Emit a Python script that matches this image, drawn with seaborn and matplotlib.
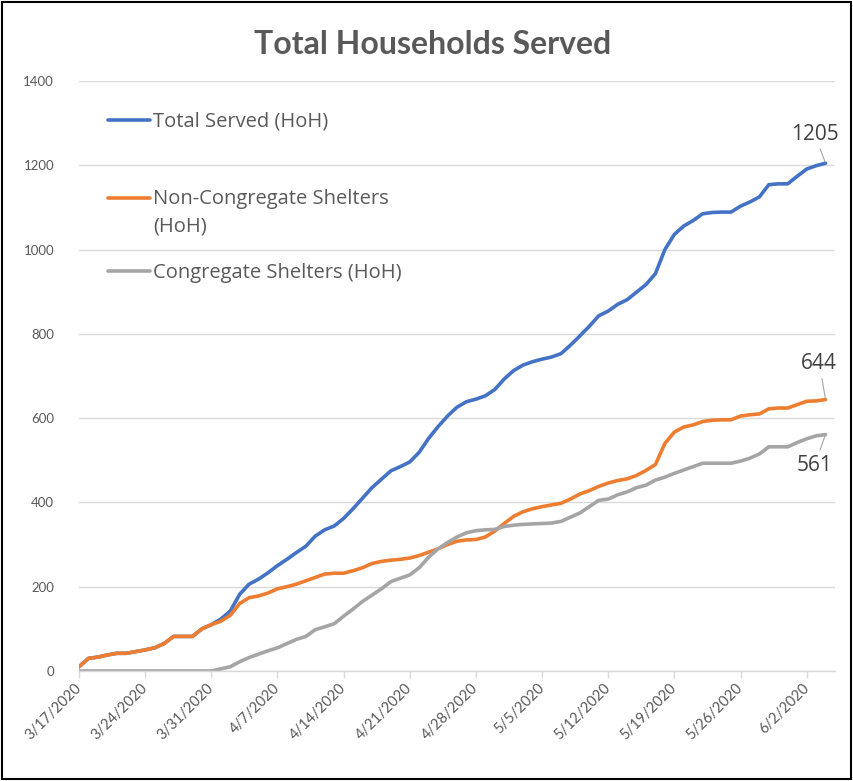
import numpy as np
import pandas as pd
import matplotlib.pyplot as plt
import matplotlib.patches as mpatches
import seaborn as sns

# Daily counts, 3/17/2020 - 6/4/2020
start_date = "2020-03-17"
end_date = "2020-06-04"

total_served = [
    10, 30, 33, 38, 42, 42, 46, 50, 55, 65, 82, 82, 82, 100, 110, 123, 142, 182, 206, 218,
    233, 250, 265, 281, 296, 320, 335, 344, 362, 385, 410, 435, 455, 475, 485, 496, 519, 552, 580, 605,
    626, 639, 645, 653, 668, 693, 713, 726, 734, 740, 745, 753, 773, 795, 818, 843, 854, 870, 881, 899,
    917, 943, 1000, 1036, 1056, 1069, 1085, 1088, 1089, 1089, 1103, 1113, 1125, 1154, 1156, 1156, 1174, 1191, 1199, 1205,
]
non_congregate = [
    10, 30, 33, 38, 42, 42, 46, 50, 55, 65, 82, 82, 82, 100, 110, 118, 132, 160, 174, 178,
    185, 195, 200, 206, 214, 222, 230, 232, 232, 238, 245, 255, 260, 263, 265, 268, 274, 282, 290, 300,
    308, 311, 312, 318, 332, 350, 367, 378, 385, 390, 394, 398, 408, 420, 428, 438, 446, 452, 456, 464,
    476, 490, 540, 567, 579, 584, 592, 595, 596, 596, 605, 608, 610, 622, 624, 624, 632, 640, 641, 644,
]
congregate = [
    0, 0, 0, 0, 0, 0, 0, 0, 0, 0, 0, 0, 0, 0, 0, 5, 10, 22, 32, 40,
    48, 55, 65, 75, 82, 98, 105, 112, 130, 147, 165, 180, 195, 212, 220, 228, 245, 270, 290, 305,
    318, 328, 333, 335, 336, 343, 346, 348, 349, 350, 351, 355, 365, 375, 390, 405, 408, 418, 425, 435,
    441, 453, 460, 469, 477, 485, 493, 493, 493, 493, 498, 505, 515, 532, 532, 532, 542, 551, 558, 561,
]

series_names = ["Total Served (HoH)", "Non-Congregate Shelters\n(HoH)", "Congregate Shelters (HoH)"]
series_colors = ["#4472C4", "#ED7D31", "#A5A5A5"]
y_ticks = [0, 200, 400, 600, 800, 1000, 1200, 1400]
tick_dates = ["2020-03-17", "2020-03-24", "2020-03-31", "2020-04-07", "2020-04-14", "2020-04-21",
              "2020-04-28", "2020-05-05", "2020-05-12", "2020-05-19", "2020-05-26", "2020-06-02"]

dates = pd.date_range(start_date, end_date, freq="D")
wide = pd.DataFrame({
    "date": dates,
    series_names[0]: total_served,
    series_names[1]: non_congregate,
    series_names[2]: congregate,
})
df = wide.melt(id_vars="date", var_name="series", value_name="hoh")

sns.set_theme(style="white")
plt.rcParams["font.family"] = ["Lato", "DejaVu Sans"]
text_grey = "#595959"

fig = plt.figure(figsize=(8.54, 7.81), dpi=100)
ax = fig.add_axes([79 / 854, 1 - 671 / 781, (835 - 79) / 854, (671 - 81) / 781])

sns.lineplot(data=df, x="date", y="hoh", hue="series", hue_order=series_names,
             palette=series_colors, linewidth=2.6, ax=ax, legend=False)

# axes styling
ax.set_xlim(pd.Timestamp("2020-03-17"), pd.Timestamp("2020-06-05"))
ax.set_ylim(0, 1400)
ax.set_yticks(y_ticks)
ax.set_yticklabels([str(v) for v in y_ticks], fontsize=9.5, color=text_grey)
ticks = pd.to_datetime(tick_dates)
ax.set_xticks(ticks)
ax.set_xticklabels([f"{d.month}/{d.day}/{d.year}" for d in ticks], rotation=45,
                   ha="right", va="center", rotation_mode="anchor", fontsize=10.5, color=text_grey)
ax.set_xlabel("")
ax.set_ylabel("")
ax.yaxis.grid(True, color="#D9D9D9", linewidth=1)
ax.set_axisbelow(True)
for side in ["top", "right", "left"]:
    ax.spines[side].set_visible(False)
ax.spines["bottom"].set_color("#D9D9D9")
ax.spines["bottom"].set_linewidth(1)
ax.tick_params(axis="x", bottom=True, length=5, width=1, color="#D9D9D9", pad=6)
ax.tick_params(axis="y", left=False, pad=12)

# legend entries, one box each
lines = ax.get_lines()[:3]
legend_y = [122, 212.5, 273]
legends = []
for line, name, ly in zip(lines, series_names, legend_y):
    leg = ax.legend([line], [name], loc="center left", bbox_to_anchor=(108 / 854, 1 - ly / 781),
                    bbox_transform=fig.transFigure, frameon=False, borderpad=0, borderaxespad=0,
                    handlelength=2.1, handletextpad=0.15,
                    prop={"family": "Open Sans", "size": 14.5}, labelcolor=text_grey)
    legends.append(leg)
for leg in legends[:-1]:
    ax.add_artist(leg)
# two-line label: put the handle on the first line
legends[1].get_texts()[0].set_linespacing(1.5)
handle = legends[1].legend_handles[0]
handle.set_ydata(np.asarray(handle.get_ydata()) + 11)

# end-point data labels
last_date = dates[-1]
label_specs = [(total_served[-1], (-8, 21)), (non_congregate[-1], (-4.5, 26)), (congregate[-1], (-8, -22))]
for value, offset in label_specs:
    ax.annotate(str(value), xy=(last_date, value), xytext=offset, textcoords="offset points",
                ha="center", va="center", fontsize=15, family="Open Sans", color="#404040",
                arrowprops=dict(arrowstyle="-", color="#A6A6A6", lw=0.8, shrinkA=1, shrinkB=1))

fig.text(433 / 854, 1 - 45 / 781, "Total Households Served", ha="center", va="center",
         fontsize=23, fontweight="bold", color=text_grey)

fig.add_artist(mpatches.Rectangle((0.002, 0.002), 0.995, 0.995, transform=fig.transFigure,
                                  fill=False, edgecolor="black", linewidth=1.5))

fig.savefig("out.png", dpi=100)
